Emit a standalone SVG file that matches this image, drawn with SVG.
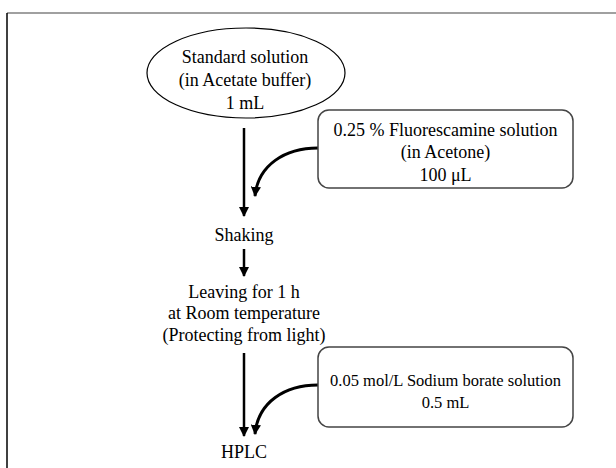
<svg xmlns="http://www.w3.org/2000/svg" width="616" height="468" viewBox="0 0 616 468">
<defs>
<style>
text{font-family:"Liberation Serif","Times New Roman",serif;font-size:18px;fill:#000;text-anchor:middle}
.sm{font-size:16.5px}
.box{fill:#fff;stroke:#444;stroke-width:1.5}
.ln{fill:none;stroke:#000;stroke-width:2.5}
.cv{fill:none;stroke:#000;stroke-width:3}
</style>
<marker id="ah" viewBox="0 0 10 10" refX="9" refY="5" markerWidth="4" markerHeight="4" markerUnits="strokeWidth" orient="auto">
<path d="M0,0 L10,5 L0,10 z" fill="#000"/>
</marker>
<marker id="ah2" viewBox="0 0 10 10" refX="9" refY="5" markerWidth="3.4" markerHeight="3.4" markerUnits="strokeWidth" orient="auto">
<path d="M0,0 L10,5 L0,10 z" fill="#000"/>
</marker>
</defs>
<rect width="616" height="468" fill="#fff"/>
<g id="frame">
<line x1="7" y1="13" x2="616" y2="13" stroke="#808080" stroke-width="1.5"/>
<line x1="7" y1="13" x2="7" y2="468" stroke="#000" stroke-width="1.5"/>
</g>
<g id="connectors">
<line class="ln" x1="244" y1="128" x2="244" y2="216" marker-end="url(#ah)"/>
<path class="cv" d="M318,148 C285,148 258,165 255,196" marker-end="url(#ah2)"/>
<line class="ln" x1="244" y1="249" x2="244" y2="276" marker-end="url(#ah)"/>
<line class="ln" x1="244" y1="353" x2="244" y2="436" marker-end="url(#ah)"/>
<path class="cv" d="M318,385 C285,385 258,402 255,434" marker-end="url(#ah2)"/>
</g>
<g id="standard">
<ellipse cx="246" cy="73" rx="99" ry="45" fill="#fff" stroke="#000" stroke-width="1.2"/>
<text x="245" y="63">Standard solution</text>
<text x="245" y="86">(in Acetate buffer)</text>
<text x="245" y="109">1 mL</text>
</g>
<g id="fluorescamine">
<rect class="box" x="318" y="110" width="255" height="78" rx="11"/>
<text x="445.5" y="136">0.25 % Fluorescamine solution</text>
<text x="445.5" y="158">(in Acetone)</text>
<text x="445.5" y="181">100 μL</text>
</g>
<g id="shaking">
<text x="244" y="241">Shaking</text>
</g>
<g id="leaving">
<text x="244" y="298">Leaving for 1 h</text>
<text x="244" y="319">at Room temperature</text>
<text x="244" y="341">(Protecting from light)</text>
</g>
<g id="borate">
<rect class="box" x="318" y="347" width="255" height="80" rx="11"/>
<text class="sm" x="445.5" y="386">0.05 mol/L Sodium borate solution</text>
<text class="sm" x="445.5" y="408">0.5 mL</text>
</g>
<g id="hplc">
<text x="244" y="458">HPLC</text>
</g>
</svg>
